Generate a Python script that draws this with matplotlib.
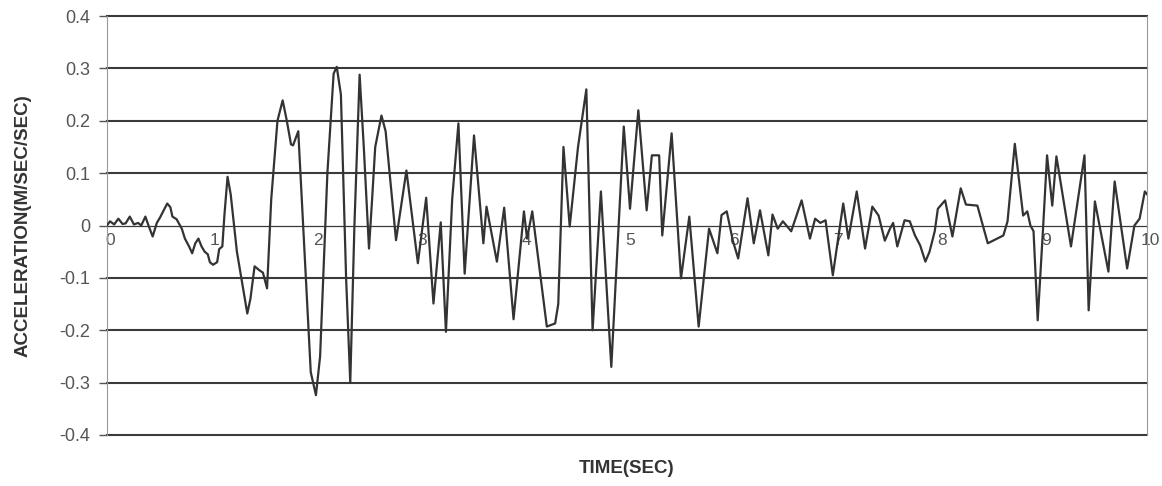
#!/usr/bin/env python3
"""Acceleration time history, 0-10 s."""

import matplotlib

matplotlib.use("Agg")
import matplotlib.pyplot as plt

# values
time_s = [
    0.00, 0.03, 0.07, 0.11, 0.15, 0.18, 0.22, 0.26, 0.30, 0.33, 0.37, 0.40,
    0.44, 0.48, 0.51, 0.58, 0.61, 0.63, 0.67, 0.72, 0.75, 0.79, 0.82, 0.85,
    0.88, 0.91, 0.94, 0.97, 0.99, 1.02, 1.06, 1.08, 1.11, 1.13, 1.16, 1.19,
    1.25, 1.35, 1.38, 1.42, 1.47, 1.50, 1.54, 1.58, 1.64, 1.69, 1.73, 1.77,
    1.79, 1.84, 1.90, 1.96, 2.01, 2.05, 2.12, 2.18, 2.21, 2.25, 2.30, 2.34,
    2.38, 2.43, 2.47, 2.52, 2.55, 2.58, 2.64, 2.68, 2.78, 2.88, 2.99, 3.07,
    3.14, 3.21, 3.26, 3.32, 3.38, 3.44, 3.53, 3.62, 3.65, 3.75, 3.82, 3.91,
    4.01, 4.04, 4.09, 4.23, 4.31, 4.34, 4.39, 4.45, 4.53, 4.61, 4.67, 4.75,
    4.85, 4.97, 5.03, 5.11, 5.19, 5.24, 5.31, 5.34, 5.43, 5.52, 5.60, 5.69,
    5.79, 5.87, 5.91, 5.96, 6.02, 6.07, 6.16, 6.22, 6.28, 6.36, 6.40, 6.45,
    6.50, 6.58, 6.68, 6.76, 6.81, 6.86, 6.91, 6.98, 7.08, 7.13, 7.21, 7.29,
    7.36, 7.42, 7.48, 7.53, 7.56, 7.60, 7.67, 7.72, 7.77, 7.82, 7.87, 7.91,
    7.96, 7.99, 8.06, 8.13, 8.21, 8.26, 8.37, 8.47, 8.56, 8.62, 8.66, 8.73,
    8.81, 8.85, 8.88, 8.91, 8.95, 9.00, 9.04, 9.09, 9.13, 9.27, 9.40, 9.44,
    9.50, 9.63, 9.69, 9.81, 9.88, 9.93, 9.98, 10.00,
]
accel = [
    0.000, 0.008, 0.002, 0.013, 0.003, 0.004, 0.017, 0.002, 0.005, 0.000, 0.017, 0.000,
    -0.021, 0.005, 0.015, 0.042, 0.035, 0.017, 0.012, -0.006, -0.025, -0.040, -0.053, -0.034,
    -0.025, -0.040, -0.050, -0.055, -0.070, -0.075, -0.070, -0.045, -0.040, 0.020, 0.093, 0.060,
    -0.050, -0.168, -0.140, -0.078, -0.086, -0.090, -0.120, 0.050, 0.200, 0.239, 0.200, 0.155,
    0.153, 0.180, -0.050, -0.280, -0.324, -0.250, 0.100, 0.290, 0.303, 0.250, -0.100, -0.300,
    0.000, 0.288, 0.150, -0.044, 0.050, 0.150, 0.210, 0.180, -0.028, 0.105, -0.072, 0.053,
    -0.149, 0.006, -0.203, 0.050, 0.195, -0.092, 0.172, -0.034, 0.036, -0.069, 0.034, -0.179,
    0.027, -0.025, 0.027, -0.193, -0.187, -0.150, 0.150, -0.002, 0.150, 0.260, -0.200, 0.065,
    -0.270, 0.189, 0.032, 0.220, 0.029, 0.134, 0.134, -0.019, 0.176, -0.101, 0.017, -0.193,
    -0.006, -0.053, 0.020, 0.027, -0.030, -0.063, 0.052, -0.034, 0.029, -0.057, 0.021, -0.006,
    0.008, -0.011, 0.048, -0.025, 0.013, 0.005, 0.010, -0.095, 0.042, -0.025, 0.065, -0.044,
    0.036, 0.019, -0.029, -0.006, 0.005, -0.040, 0.010, 0.008, -0.019, -0.038, -0.069, -0.050,
    -0.011, 0.032, 0.048, -0.021, 0.071, 0.040, 0.038, -0.034, -0.025, -0.019, 0.008, 0.156,
    0.019, 0.027, 0.000, -0.011, -0.181, -0.011, 0.134, 0.038, 0.132, -0.040, 0.134, -0.162,
    0.046, -0.088, 0.084, -0.082, 0.000, 0.013, 0.065, 0.060,
]

y_ticks = [-0.4, -0.3, -0.2, -0.1, 0.0, 0.1, 0.2, 0.3, 0.4]
y_tick_labels = ["-0.4", "-0.3", "-0.2", "-0.1", "0", "0.1", "0.2", "0.3", "0.4"]
x_ticks = list(range(0, 11))

plt.rcParams["font.family"] = ["Liberation Sans", "DejaVu Sans"]

fig = plt.figure(figsize=(11.62, 4.86), dpi=100)
ax = fig.add_axes([0.092, 0.105, 0.895, 0.862])

for y in y_ticks:
    ax.axhline(y, color="#3a3a3a", linewidth=1.5 if y != 0 else 0.9,
               zorder=1, clip_on=False)

ax.plot(time_s, accel, color="#333333", linewidth=1.6, zorder=3)

ax.set_xlim(0, 10)
ax.set_ylim(-0.4, 0.4)
ax.set_yticks(y_ticks)
ax.set_yticklabels(y_tick_labels)
ax.set_xticks([])
ax.tick_params(axis="y", length=6, width=1.0, color="#555555", labelsize=13,
               labelcolor="#555555", pad=6)

# x labels sit just under the zero line, as in the original
for t in x_ticks:
    ax.text(t + 0.03, -0.015, str(t), ha="center", va="top", fontsize=12.5,
            color="#555555", zorder=2)

for side in ("top", "bottom"):
    ax.spines[side].set_visible(False)
ax.spines["left"].set_color("#999999")
ax.spines["right"].set_color("#999999")
ax.spines["left"].set_linewidth(0.8)
ax.spines["right"].set_linewidth(0.8)

ax.set_xlabel("TIME(SEC)", fontsize=13.5, fontweight="bold", color="#333333", labelpad=18)
ax.set_ylabel("ACCELERATION(M/SEC/SEC)", fontsize=13.5, fontweight="bold",
              color="#333333", labelpad=20)

fig.savefig("out.png", dpi=100)
plt.close(fig)
